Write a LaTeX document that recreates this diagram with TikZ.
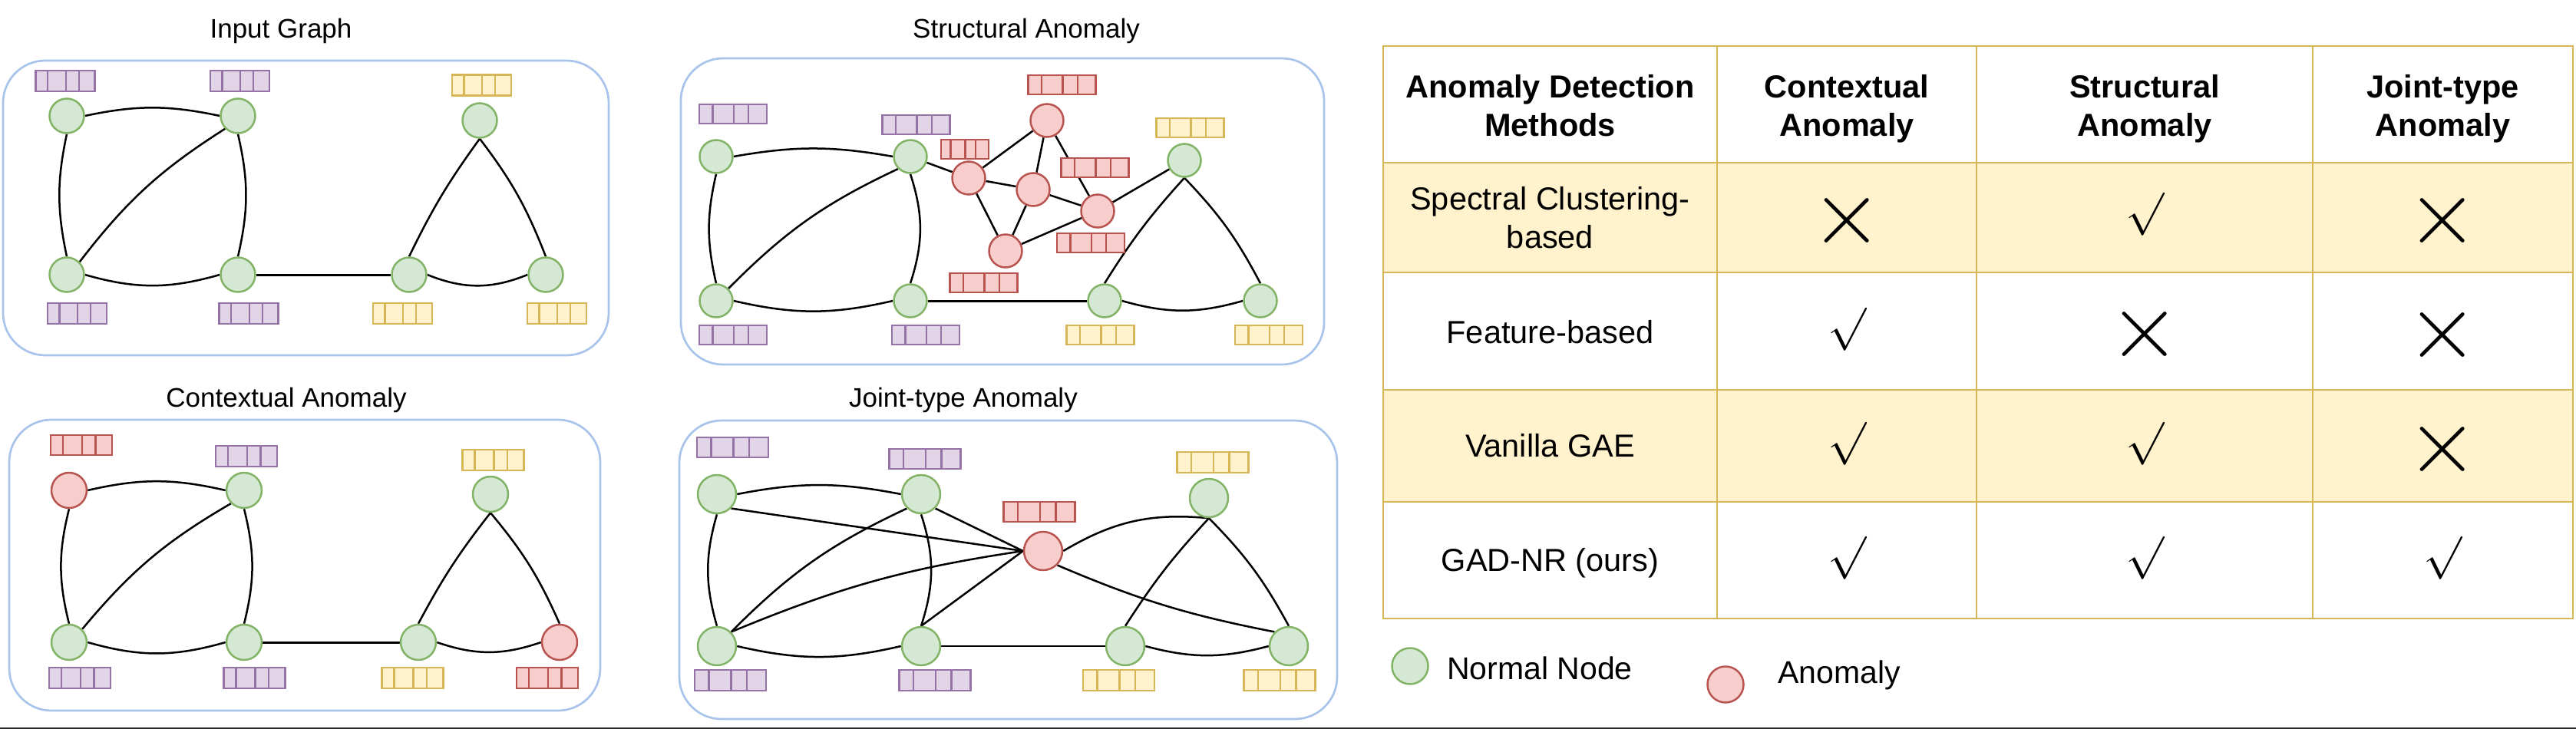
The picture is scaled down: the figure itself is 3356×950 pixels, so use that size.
\documentclass[tikz,border=0pt]{standalone}
\usepackage{fontspec}
\setmainfont{Liberation Sans}
\usepackage{graphicx}
\usetikzlibrary{calc,backgrounds}
\definecolor{gF}{HTML}{D5E8D4}\definecolor{gS}{HTML}{82B366}
\definecolor{rF}{HTML}{F8CECC}\definecolor{rS}{HTML}{B85450}
\definecolor{pF}{HTML}{E1D5E7}\definecolor{pS}{HTML}{9673A6}
\definecolor{yF}{HTML}{FFF2CC}\definecolor{yS}{HTML}{D6B656}
\definecolor{bS}{HTML}{A9C4EB}
\definecolor{rulec}{HTML}{2B2B2B}
\newcommand\cmk{\scalebox{6}[5.6]{$\surd$}}
\newcommand\xmk{\scalebox{12}{$\times$}}
\begin{document}
\begin{tikzpicture}[x=1pt,y=-1pt,
  nsize/.style={minimum size=45pt},
  fbsize/.style={minimum width=77pt,minimum height=27pt},
  gn/.style={circle,draw=gS,fill=gF,line width=2.5pt,inner sep=0pt,nsize},
  rn/.style={circle,draw=rS,fill=rF,line width=2.5pt,inner sep=0pt,nsize},
  fb/.style={rectangle,draw=#1S,fill=#1F,line width=2.4pt,inner sep=0pt,fbsize,
    path picture={\foreach \f in {0.2,0.51,0.73}{\draw[draw=#1S,line width=2.4pt]
      ($(path picture bounding box.north west)!\f!(path picture bounding box.north east)$) --
      ($(path picture bounding box.south west)!\f!(path picture bounding box.south east)$);}}},
  ed/.style={draw=black,line width=2.5pt},
  thk/.style={draw=black,line width=3pt},
  bl/.style={bend left=#1}, br/.style={bend right=#1},
  panel/.style={draw=bS,line width=2.7pt,rounded corners=55pt},
  title/.style={font=\fontsize{35}{42}\selectfont,anchor=base,inner sep=0pt},
  tx/.style={font=\fontsize{41.5}{50}\selectfont,anchor=base,inner sep=0pt},
  hx/.style={font=\fontsize{41.5}{50}\selectfont\bfseries,anchor=base,inner sep=0pt},
  mk/.style={inner sep=0pt},
  tline/.style={draw=yS,line width=2.6pt}
]
\useasboundingbox (0,0) rectangle (3356,950);

% ---------------- Panel 1: Input Graph
\begin{scope}
\node[title] (t1) at (366,50) {Input Graph};
\draw[panel] (4,79) rectangle (793,463);
\node[gn] (a1) at (87,151) {};
\node[gn] (b1) at (310,151) {};
\node[gn] (c1) at (625,157) {};
\node[gn] (d1) at (87,358) {};
\node[gn] (e1) at (310,358) {};
\node[gn] (f1) at (533,358) {};
\node[gn] (g1) at (711,358) {};
\node[fb=p] (fa1) at (85,105.5) {};
\node[fb=p] (fb1) at (312.5,105.5) {};
\node[fb=y] (fc1) at (627.5,111) {};
\node[fb=p] (fd1) at (100.5,408.5) {};
\node[fb=p] (fe1) at (324,408.5) {};
\node[fb=y] (ff1) at (524.5,408.5) {};
\node[fb=y] (fg1) at (725.5,408.5) {};
\begin{pgfonlayer}{background}
\draw[ed] (a1.east) to[bl=12] (b1.west);
\draw[ed] (a1.south) to[br=12] (d1.north);
\draw[ed] (d1.north east) to[bl=10] (b1.south west);
\draw[ed] (b1.south) to[bl=13] (e1.north);
\draw[ed] (d1.east) to[br=16] (e1.west);
\draw[thk] (e1.east) -- (f1.west);
\draw[ed] (f1.north) to[bl=5] (c1.south);
\draw[ed] (c1.south) to[bl=8] (g1.north);
\draw[ed] (f1.east) to[br=22] (g1.west);
\end{pgfonlayer}
\end{scope}

% ---------------- Panel 3: Contextual Anomaly
\begin{scope}[nsize/.style={minimum size=46pt},fbsize/.style={minimum width=80pt,minimum height=26.5pt}]
\node[title] (t3) at (373,530) {Contextual Anomaly};
\draw[panel] (12,547) rectangle (782,926);
\node[rn] (a3) at (90,639) {};
\node[gn] (b3) at (318,639) {};
\node[gn] (c3) at (639,644) {};
\node[gn] (d3) at (90,837) {};
\node[gn] (e3) at (318,837) {};
\node[gn] (f3) at (545,837) {};
\node[rn] (g3) at (729,837) {};
\node[fb=r] (fa3) at (106,580) {};
\node[fb=p] (fb3) at (321,594.5) {};
\node[fb=y] (fc3) at (642.5,599.5) {};
\node[fb=p] (fd3) at (104,883.5) {};
\node[fb=p] (fe3) at (331.5,883.5) {};
\node[fb=y] (ff3) at (537.5,883.5) {};
\node[fb=r] (fg3) at (713,883.5) {};
\begin{pgfonlayer}{background}
\draw[ed] (a3.east) to[bl=13] (b3.west);
\draw[ed] (a3.south) to[br=14] (d3.north);
\draw[ed] (d3.north east) to[bl=10] (b3.south west);
\draw[ed] (b3.south) to[bl=14] (e3.north);
\draw[ed] (d3.east) to[br=16] (e3.west);
\draw[thk] (e3.east) -- (f3.west);
\draw[ed] (f3.north) to[bl=5] (c3.south);
\draw[ed] (c3.south) to[bl=8] (g3.north);
\draw[ed] (f3.east) to[br=19] (g3.west);
\end{pgfonlayer}
\end{scope}

% ---------------- Panel 2: Structural Anomaly
\begin{scope}[nsize/.style={minimum size=43pt},fbsize/.style={minimum width=88pt,minimum height=25pt}]
\node[title] (t2) at (1337,50) {Structural Anomaly};
\draw[panel] (887,76) rectangle (1725,475);
\node[gn] (n21) at (933,204) {};
\node[gn] (n22) at (1186,204) {};
\node[gn] (n23) at (1543,209) {};
\node[gn] (n24) at (933,392) {};
\node[gn] (n25) at (1186,392) {};
\node[gn] (n26) at (1439,392) {};
\node[gn] (n27) at (1642,392) {};
\node[rn] (r21) at (1364,157) {};
\node[rn] (r22) at (1262,232) {};
\node[rn] (r23) at (1346,247) {};
\node[rn] (r24) at (1430,275) {};
\node[rn] (r25) at (1310,327) {};
\node[fb=p] (f21) at (955,148.5) {};
\node[fb=p] (f22) at (1193.5,162.5) {};
\node[fb=r] (fr1) at (1383.5,110.5) {};
\node[fb=r,minimum width=62pt] (fr2) at (1257,194.5) {};
\node[fb=r] (fr3) at (1426.5,218.5) {};
\node[fb=r] (fr4) at (1421,316.5) {};
\node[fb=r] (fr5) at (1281.5,368.5) {};
\node[fb=y] (f23) at (1550.5,166.5) {};
\node[fb=p] (f24) at (955,436.5) {};
\node[fb=p] (f25) at (1206,436.5) {};
\node[fb=y] (f26) at (1433.5,436.5) {};
\node[fb=y] (f27) at (1653,436.5) {};
\begin{pgfonlayer}{background}
\draw[ed] (n21.east) to[bl=10] (n22.west);
\draw[ed] (n21.south) to[br=13] (n24.north);
\draw[ed] (n24.north east) to[bl=10] (n22.south west);
\draw[ed] (n22.south) to[bl=18] (n25.north);
\draw[ed] (n24.east) to[br=13] (n25.west);
\draw[thk] (n25.east) -- (n26.west);
\draw[ed] (n26.north) to[bl=5] (n23.south);
\draw[ed] (n23.south) to[bl=8] (n27.north);
\draw[ed] (n26.east) to[br=16] (n27.west);
\draw[ed] (n22) -- (r22);
\draw[ed] (r22) -- (r21);
\draw[ed] (r22) -- (r23);
\draw[ed] (r22) -- (r25);
\draw[ed] (r21) -- (r23);
\draw[ed] (r21) -- (r24);
\draw[ed] (r23) -- (r24);
\draw[ed] (r23) -- (r25);
\draw[ed] (r25) -- (r24);
\draw[ed] (r24) -- (n23);
\end{pgfonlayer}
\end{scope}

% ---------------- Panel 4: Joint-type Anomaly
\begin{scope}[nsize/.style={minimum size=50pt},fbsize/.style={minimum width=93pt,minimum height=26.5pt}]
\node[title] (t4) at (1255,530) {Joint-type Anomaly};
\draw[panel] (885,548) rectangle (1742,937);
\node[gn] (n41) at (934,644) {};
\node[gn] (n42) at (1200,644) {};
\node[gn] (n43) at (1575,649) {};
\node[gn] (n44) at (934,842) {};
\node[gn] (n45) at (1200,842) {};
\node[gn] (n46) at (1466,842) {};
\node[gn] (n47) at (1679,842) {};
\node[rn] (r4) at (1359,718) {};
\node[fb=p] (f41) at (954.5,583) {};
\node[fb=p] (f42) at (1205,598) {};
\node[fb=y] (f43) at (1580,602.5) {};
\node[fb=r] (fr4b) at (1354,667) {};
\node[fb=p] (f44) at (951.5,886.5) {};
\node[fb=p] (f45) at (1218,886.5) {};
\node[fb=y] (f46) at (1457.5,886.5) {};
\node[fb=y] (f47) at (1667,886.5) {};
\begin{pgfonlayer}{background}
\draw[ed] (n41.east) to[bl=11] (n42.west);
\draw[ed] (n41.south) to[br=16] (n44.north);
\draw[ed] (n44.north east) to[bl=10] (n42.south west);
\draw[ed] (n42.south) to[bl=18] (n45.north);
\draw[ed] (n44.east) to[br=13] (n45.west);
\draw[ed] (n45.east) -- (n46.west);
\draw[ed] (n46.north) to[bl=5] (n43.south);
\draw[ed] (n43.south) to[bl=8] (n47.north);
\draw[ed] (n46.east) to[br=15] (n47.west);
\draw[ed] (n41.south east) -- (r4.west);
\draw[ed] (n42.south east) -- (r4.west);
\draw[ed] (n44.north east) to[bl=7] (r4.west);
\draw[ed] (n45.north) -- (r4.west);
\draw[ed] (r4.east) to[bl=18] (n43.south);
\draw[ed] (r4.south east) to[br=6] (n47.north west);
\end{pgfonlayer}
\end{scope}

% ---------------- Table
\fill[yF] (1802,212) rectangle (3352,355);
\fill[yF] (1802,508) rectangle (3352,654);
\foreach \yy in {212,355,508,654} \draw[tline] (1802,\yy) -- (3352,\yy);
\foreach \xx in {2237,2575,3013} \draw[tline] (\xx,60) -- (\xx,806);
\draw[tline] (1802,60) rectangle (3352,806);

\node[hx] (h1a) at (2019.5,127) {Anomaly Detection};
\node[hx] (h1b) at (2019.5,177) {Methods};
\node[hx] (h2a) at (2406,127) {Contextual};
\node[hx] (h2b) at (2406,177) {Anomaly};
\node[hx] (h3a) at (2794,127) {Structural};
\node[hx] (h3b) at (2794,177) {Anomaly};
\node[hx] (h4a) at (3182.5,127) {Joint-type};
\node[hx] (h4b) at (3182.5,177) {Anomaly};
\node[tx] (m1a) at (2019.5,273) {Spectral Clustering-};
\node[tx] (m1b) at (2019.5,323) {based};
\node[tx] (m2) at (2019.5,447) {Feature-based};
\node[tx] (m3) at (2019.5,595) {Vanilla GAE};
\node[tx] (m4) at (2019.5,744) {GAD-NR (ours)};

\node[mk] (x12) at (2406,287) {\xmk};
\node[mk] (c13) at (2794,279) {\cmk};
\node[mk] (x14) at (3182.5,287) {\xmk};
\node[mk] (c22) at (2406,429) {\cmk};
\node[mk] (x23) at (2794,435) {\xmk};
\node[mk] (x24) at (3182.5,436) {\xmk};
\node[mk] (c32) at (2406,578) {\cmk};
\node[mk] (c33) at (2794,578) {\cmk};
\node[mk] (x34) at (3182.5,585) {\xmk};
\node[mk] (c42) at (2406,727) {\cmk};
\node[mk] (c43) at (2794,727) {\cmk};
\node[mk] (c44) at (3182.5,727) {\cmk};

% ---------------- Legend
\node[gn,minimum size=47pt] (lg) at (1837,868) {};
\node[tx,anchor=base west,font=\fontsize{41}{49}\selectfont] (lgt) at (1885,885) {Normal Node};
\node[rn,minimum size=47pt] (lr) at (2248,892) {};
\node[tx,anchor=base west,font=\fontsize{41}{49}\selectfont] (lrt) at (2316,890) {Anomaly};

% bottom rule
\fill[rulec] (0,947.5) rectangle (3356,950);
\end{tikzpicture}
\end{document}
